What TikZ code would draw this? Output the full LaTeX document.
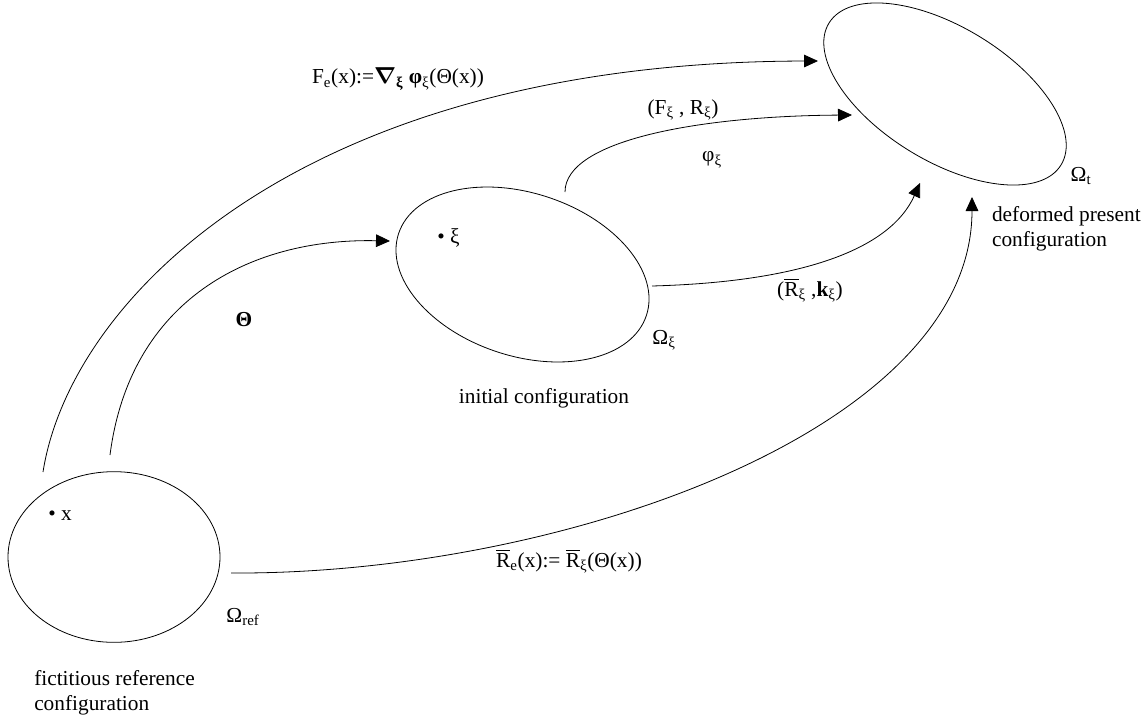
\documentclass[tikz,border=0pt]{standalone}
\usepackage{amsmath}
\usepackage{fontspec}
\setmainfont{Liberation Serif}
\usetikzlibrary{shapes.geometric,arrows.meta}
\tikzset{
  region/.style={draw, ellipse, line width=0.6pt, inner sep=0pt},
  conn/.style={line width=0.6pt, -{Triangle[length=10.5pt,width=9.5pt]}},
  lbl/.style={inner sep=0pt, font=\fontsize{16pt}{18.75pt}\selectfont},
}
\newcommand{\Rbar}{$\overline{\mbox{R}}$}
\begin{document}
\begin{tikzpicture}[x=0.75pt,y=-0.75pt]
\useasboundingbox (0,0) rectangle (1145,724);
% regions
\node[region, minimum width=159pt, minimum height=128pt] (ref) at (114,557) {};
\node[region, minimum width=195.75pt, minimum height=122.1pt, rotate=-18.3] (xi) at (522.5,274.5) {};
\node[region, minimum width=204pt, minimum height=100.5pt, rotate=-31.4] (t) at (945,94) {};
% points
\node[lbl, anchor=west] (px) at (48,516) {\textbullet\ x};
\node[lbl, anchor=west] (pxi) at (437,238) {\textbullet\ ξ};
% region labels
\node[lbl] (Oref) at (243,617) {Ω\textsubscript{ref}};
\node[lbl] (Oxi) at (664,340) {Ω\textsubscript{ξ}};
\node[lbl] (Ot) at (1081,176) {Ω\textsubscript{t}};
\node[lbl, anchor=west, align=left] (tref) at (34,693) {fictitious reference\\configuration};
\node[lbl] (txi) at (544,398) {initial configuration};
\node[lbl, anchor=east, align=left] (tt) at (1141,229) {deformed present\\configuration};
% connector end points
\coordinate (a1) at (43,472);  \coordinate (b1) at (818,61);
\coordinate (a2) at (110,455); \coordinate (b2) at (390,241);
\coordinate (a3) at (565,192); \coordinate (b3) at (852,115);
\coordinate (a4) at (652,286); \coordinate (b4) at (920,183);
\coordinate (a5) at (231,573); \coordinate (b5) at (972,197);
% connectors
\draw[conn] (a1) .. controls (70,300) and (300,62) .. (b1);
\draw[conn] (a2) .. controls (130,300) and (250,238) .. (b2);
\draw[conn] (a3) .. controls (565,140) and (700,116) .. (b3);
\draw[conn] (a4) .. controls (800,282) and (890,250) .. (b4);
\draw[conn] (a5) .. controls (560,575) and (972,430) .. (b5);
% connector labels
\node[lbl] (lFe) at (398,79) {F\textsubscript{e}(x):=$\boldsymbol{\nabla}$\textsubscript{\textbf{ξ}} \textbf{φ}\textsubscript{ξ}(Θ(x))};
\node[lbl] (lTheta) at (244,320) {\textbf{Θ}};
\node[lbl] (lFR) at (683,110) {(F\textsubscript{ξ} , R\textsubscript{ξ})};
\node[lbl] (lphi) at (712,160) {φ\textsubscript{ξ}};
\node[lbl] (lRk) at (810,290) {(\Rbar\textsubscript{ξ} ,\textbf{k}\textsubscript{ξ})};
\node[lbl] (lRe) at (569,561) {\Rbar\textsubscript{e}(x):= \Rbar\textsubscript{ξ}(Θ(x))};
\end{tikzpicture}
\end{document}
